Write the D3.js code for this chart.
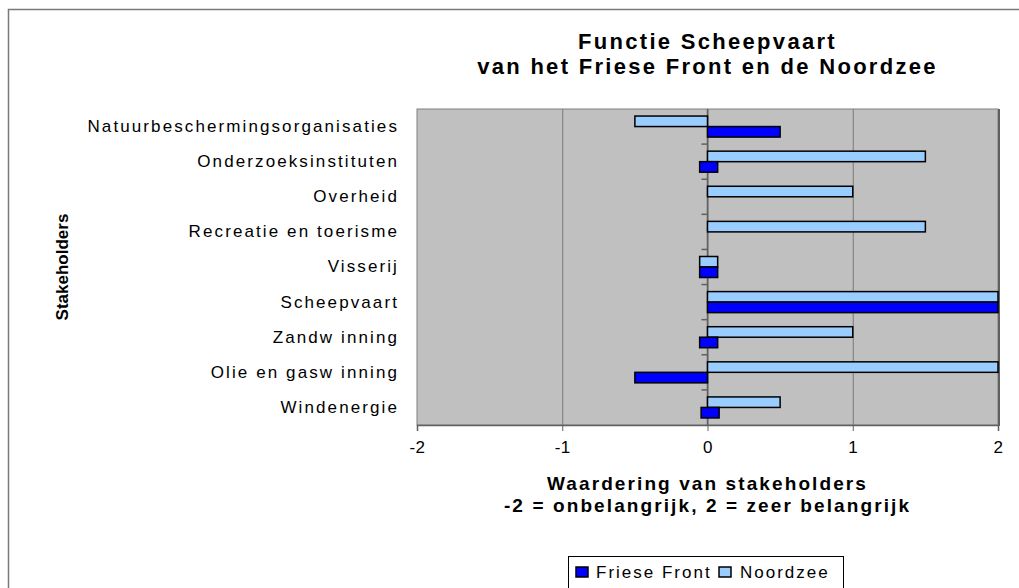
<!DOCTYPE html>
<html>
<head>
<meta charset="utf-8">
<script src="https://cdn.jsdelivr.net/npm/d3@7"></script>
<style>
  body { margin: 0; background: #fff; }
  svg { display: block; font-family: "Liberation Sans", Arial, sans-serif; }
</style>
</head>
<body>
<div class="canvas"></div>
<script>
// data
const stakeholders = ['Natuurbeschermingsorganisaties', 'Onderzoeksinstituten', 'Overheid',
    'Recreatie en toerisme', 'Visserij', 'Scheepvaart', 'Zandw inning', 'Olie en gasw inning', 'Windenergie'];
const noordzee = [-0.5, 1.5, 1, 1.5, 0.07, 2, 1, 2, 0.5];
const frieseFront = [0.5, 0.07, 0, 0, 0.07, 2, 0.07, -0.5, 0.08];
const seriesNames = ['Noordzee', 'Friese Front'];
const xTicks = [-2, -1, 0, 1, 2];

const colors = {'Friese Front': '#0000ff', 'Noordzee': '#99ccff'};

const width = 1019, height = 588;
const svg = d3.select('.canvas')
    .append('svg')
    .attr('width', width)
    .attr('height', height);

// outer chart border (runs off the right / bottom edge)
svg.append('rect')
    .attr('x', 8.5).attr('y', 9.5)
    .attr('width', 1100).attr('height', 700)
    .attr('fill', 'none')
    .attr('stroke', '#7a7a7a')
    .attr('stroke-width', 1.5);

//create margins and dimensions
const margin = {top: 109, left: 417, right: 21, bottom: 163};
const graphWidth = width - margin.left - margin.right;
const graphHeight = height - margin.top - margin.bottom;

const graph = svg.append('g')
    .attr('transform', `translate(${margin.left}, ${margin.top})`);

// scales
const x = d3.scaleLinear().domain([-2, 2]).range([0, graphWidth]);
const y = d3.scaleBand().domain(stakeholders).range([0, graphHeight]).padding(0);
const ySub = d3.scaleBand().domain(seriesNames).range([0, y.bandwidth()])
    .paddingInner(0).paddingOuter(0.67);

// plot background
graph.append('rect')
    .attr('width', graphWidth).attr('height', graphHeight)
    .attr('fill', '#c0c0c0')
    .attr('stroke', '#808080');
graph.append('line')
    .attr('x1', graphWidth + 1).attr('x2', graphWidth + 1)
    .attr('y1', 0).attr('y2', graphHeight + 1)
    .attr('stroke', '#606060').attr('stroke-width', 2);

// gridlines
graph.selectAll('line.grid')
    .data(xTicks.slice(1, -1))
    .enter().append('line')
    .attr('class', 'grid')
    .attr('x1', d => x(d) + 0.5).attr('x2', d => x(d) + 0.5)
    .attr('y1', 0).attr('y2', graphHeight)
    .attr('stroke', '#7a7a7a');

// x axis
const xAxis = d3.axisBottom(x)
    .tickValues(xTicks)
    .tickFormat(d => String(d))
    .tickSize(6)
    .tickPadding(10);
const xAxisGroup = graph.append('g')
    .attr('transform', `translate(0, ${graphHeight})`)
    .call(xAxis);
xAxisGroup.select('.domain').attr('stroke', '#606060').attr('stroke-width', 1.5);
xAxisGroup.selectAll('.tick line').attr('stroke', '#606060');
xAxisGroup.selectAll('text')
    .attr('font-size', 17)
    .attr('letter-spacing', 0.5)
    .attr('fill', '#000')
    .style('font-family', '"Liberation Sans", Arial, sans-serif');

// category axis on the left (labels only)
const yAxis = d3.axisLeft(y).tickSize(0).tickPadding(18);
const yAxisGroup = graph.append('g').call(yAxis);
yAxisGroup.select('.domain').remove();
yAxisGroup.selectAll('text')
    .attr('font-size', 17)
    .attr('letter-spacing', 2.1)
    .attr('fill', '#000')
    .style('font-family', '"Liberation Sans", Arial, sans-serif');

// zero axis with small ticks at category boundaries
graph.append('line')
    .attr('x1', x(0)).attr('x2', x(0))
    .attr('y1', 0).attr('y2', graphHeight)
    .attr('stroke', '#606060').attr('stroke-width', 1.5);
graph.selectAll('line.cat-tick')
    .data(stakeholders.slice(1))
    .enter().append('line')
    .attr('class', 'cat-tick')
    .attr('x1', x(0) - 6).attr('x2', x(0))
    .attr('y1', d => y(d)).attr('y2', d => y(d))
    .attr('stroke', '#606060').attr('stroke-width', 1.5);

// bars
const barData = [];
stakeholders.forEach((s, i) => {
    barData.push({cat: s, series: 'Noordzee', value: noordzee[i]});
    barData.push({cat: s, series: 'Friese Front', value: frieseFront[i]});
});

const minW = 18; // tiny values still shown as a small block, like the original
const barX = d => {
    const w = Math.abs(x(d.value) - x(0));
    if (w < minW) return x(d.value) - minW;
    return x(Math.min(0, d.value));
};
const barW = d => Math.max(minW, Math.abs(x(d.value) - x(0)));

graph.selectAll('rect.bar')
    .data(barData.filter(d => d.value !== 0))
    .enter().append('rect')
    .attr('class', 'bar')
    .attr('x', barX)
    .attr('y', d => y(d.cat) + ySub(d.series))
    .attr('width', barW)
    .attr('height', ySub.bandwidth())
    .attr('fill', d => colors[d.series])
    .attr('stroke', '#000')
    .attr('stroke-width', 1.5);

// title
const cx = margin.left + graphWidth / 2;
const title = svg.append('text')
    .attr('text-anchor', 'middle')
    .attr('font-size', 22)
    .attr('font-weight', 'bold')
    .attr('letter-spacing', 2.3);
title.append('tspan').attr('x', cx).attr('y', 49).text('Functie Scheepvaart');
title.append('tspan').attr('x', cx).attr('y', 74).text('van het Friese Front en de Noordzee');

// x axis title
const xTitle = svg.append('text')
    .attr('text-anchor', 'middle')
    .attr('font-size', 19)
    .attr('font-weight', 'bold')
    .attr('letter-spacing', 2.1);
xTitle.append('tspan').attr('x', cx).attr('y', 490).text('Waardering van stakeholders');
xTitle.append('tspan').attr('x', cx).attr('y', 512).text('-2 = onbelangrijk, 2 = zeer belangrijk');

// y axis title
svg.append('text')
    .attr('transform', `translate(68, ${margin.top + graphHeight / 2}) rotate(-90)`)
    .attr('text-anchor', 'middle')
    .attr('font-size', 17)
    .attr('font-weight', 'bold')
    .text('Stakeholders');

// legend
const legend = svg.append('g').attr('transform', 'translate(568, 556)');
legend.append('rect')
    .attr('x', 0.5).attr('y', 0.5)
    .attr('width', 275).attr('height', 60)
    .attr('fill', '#fff')
    .attr('stroke', '#000');
const legendItems = [
    {name: 'Friese Front', x: 8, tx: 28},
    {name: 'Noordzee', x: 151, tx: 172}
];
legendItems.forEach(item => {
    legend.append('rect')
        .attr('x', item.x).attr('y', 11)
        .attr('width', 12).attr('height', 10)
        .attr('fill', colors[item.name])
        .attr('stroke', '#000')
        .attr('stroke-width', 1.5);
    legend.append('text')
        .attr('x', item.tx).attr('y', 22)
        .attr('font-size', 17)
        .attr('letter-spacing', 2)
        .text(item.name);
});
</script>
</body>
</html>
